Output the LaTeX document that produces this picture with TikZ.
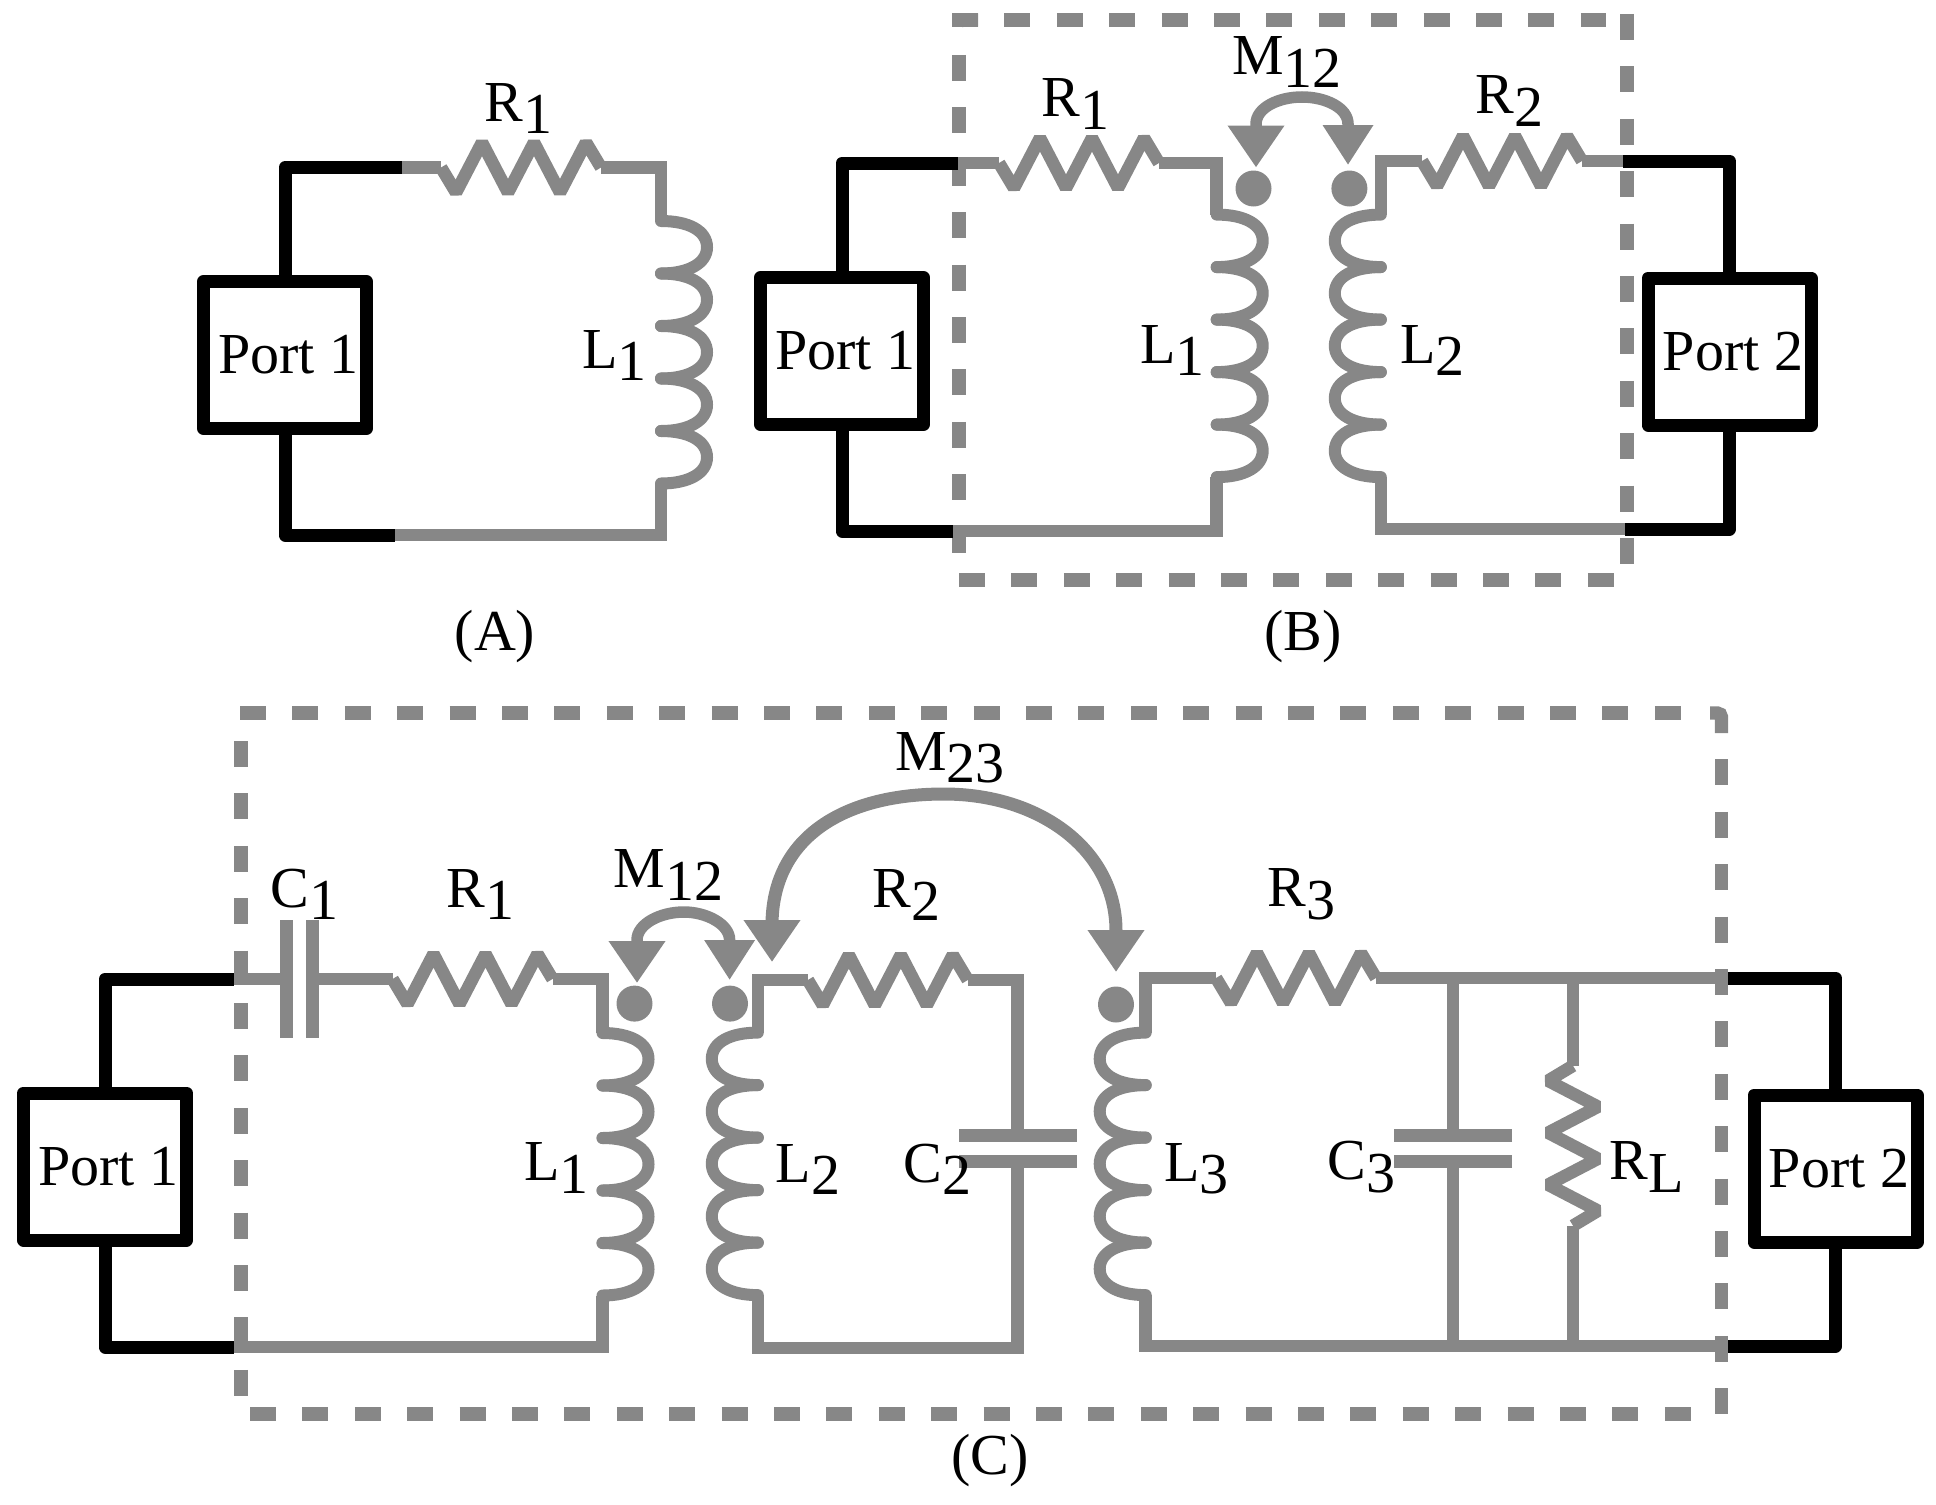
\documentclass[tikz,border=0pt]{standalone}
\usepackage{xcolor}
\usepackage{fontspec}
\setmainfont{Liberation Serif}
\usetikzlibrary{arrows.meta,calc}
\definecolor{wiregray}{RGB}{135,135,135}
\newcommand{\subtext}[2]{#1\raisebox{-6.3pt}{#2}}

\begin{document}
\begin{tikzpicture}[
  x=0.5pt, y=-0.5pt,
  wire/.style={draw=wiregray, line width=6.3pt},
  leadline/.style={draw=black, line width=6.5pt, line join=round},
  portbox/.style={
    draw=black,
    fill=white,
    line width=6.5pt,
    line join=round,
    minimum width=81.5pt,
    minimum height=73.5pt,
    inner sep=0pt,
    outer sep=0pt,
    execute at begin node={\hspace{3.5pt}},
    font=\fontsize{29pt}{34pt}\selectfont
  },
  cmplabel/.style={anchor=base west, inner sep=0pt, font=\fontsize{29pt}{34pt}\selectfont},
  panellabel/.style={anchor=base, inner sep=0pt, font=\fontsize{29pt}{34pt}\selectfont},
  framedash/.style={draw=wiregray, line width=6.6pt, dash pattern=on 13pt off 13.2pt},
  framecorner/.style={draw=wiregray, line width=6.6pt, rounded corners=2pt},
  dotmark/.style={circle, fill=wiregray, inner sep=0pt, minimum size=18pt},
  coupling/.style={draw=wiregray, line width=5.75pt,
    {Triangle[length=21pt,width=27pt]}-{Triangle[length=20pt,width=24pt]}},
  longcoupling/.style={draw=wiregray, line width=6.5pt,
    {Triangle[length=21pt,width=27pt]}-{Triangle[length=21pt,width=27pt]}},
  resistor/.pic={
    \draw[wire, line join=bevel] (0,0) -- (15,25) -- (41,-25) -- (67,25) -- (93,-25) -- (119,25) -- (145,-25) -- (160,0);
    \coordinate (-in) at (0,0);
    \coordinate (-out) at (160,0);
  },
  coil/.pic={
    \foreach \k in {0,...,4}
      \draw[draw=wiregray, line width=6pt, line cap=round, shift={(0,52.5*\k)}]
        (0,0) .. controls (28,0) and (46,10) .. (46,26.25) .. controls (46,42) and (28,52.5) .. (0,52.5);
    \coordinate (-in) at (0,0);
    \coordinate (-out) at (0,262.5);
  },
  capacitor/.pic={
    \draw[wire, line width=6.5pt] (0,-59) -- (0,59);
    \draw[wire, line width=6.5pt] (26,-59) -- (26,59);
    \coordinate (-in) at (0,0);
    \coordinate (-out) at (26,0);
  }
]
\useasboundingbox (0,0) rectangle (1936,1504);

% Panel A
\node[portbox] (pa) at (285,355) {Port 1};
\coordinate (ja1) at (402,167.5);
\coordinate (ja2) at (395,535);
\pic (ra) at (441,167.5) {resistor};
\pic (la) at (661,221) {coil};
\draw[wire] (ja1) -- (ra-in);
\draw[wire] (ra-out) -| (la-in);
\draw[wire] (la-out) |- (ja2);
\draw[leadline] (pa.north) |- (ja1);
\draw[leadline] (pa.south) |- (ja2);
\node[cmplabel] (lra) at (484,121) {\subtext{R}{1}};
\node[cmplabel] (lla) at (582,368) {\subtext{L}{1}};
\node[panellabel] (capa) at (495,650) {(A)};

% Panel B frame
\coordinate (fb1) at (952,20);
\coordinate (fb2) at (1606,20);
\coordinate (fb3) at (959,55);
\coordinate (fb4) at (959,553);
\coordinate (fb5) at (1627,14);
\coordinate (fb6) at (1627,566);
\coordinate (fb7) at (959,580);
\coordinate (fb8) at (1615,580);
\draw[framedash] (fb1) -- (fb2);
\draw[framedash] (fb3) -- (fb4);
\draw[framedash] (fb5) -- (fb6);
\draw[framedash] (fb7) -- (fb8);
\coordinate (fb9) at (959,27);
\coordinate (fb10) at (978,20);
\draw[framecorner] (fb9) |- (fb10);

% Panel B
\node[portbox] (pb1) at (842,351) {Port 1};
\node[portbox] (pb2) at (1729.5,351.5) {Port 2};
\coordinate (jb1) at (958,163);
\coordinate (jb2) at (953,531);
\coordinate (jb3) at (1623,161);
\coordinate (jb4) at (1625,529);
\pic (rb1) at (999,163) {resistor};
\pic (rb2) at (1422,161) {resistor};
\pic (lb1) at (1216.7,214.6) {coil};
\pic[xscale=-1] (lb2) at (1380.8,214.6) {coil};
\draw[wire] (jb1) -- (rb1-in);
\draw[wire] (rb1-out) -| (lb1-in);
\draw[wire] (lb1-out) |- (jb2);
\draw[wire] (lb2-in) |- (rb2-in);
\draw[wire] (rb2-out) -- (jb3);
\draw[wire] (lb2-out) |- (jb4);
\draw[leadline] (pb1.north) |- (jb1);
\draw[leadline] (pb1.south) |- (jb2);
\draw[leadline] (pb2.north) |- (jb3);
\draw[leadline] (pb2.south) |- (jb4);
\node[dotmark] (db1) at (1253.5,188.5) {};
\node[dotmark] (db2) at (1349.4,188.5) {};
\coordinate (tb1) at (1256,167.5);
\coordinate (tb2) at (1348,165);
\draw[coupling] (tb1) -- (1256,124) .. controls (1256,108) and (1278,97) .. (1302,97)
  .. controls (1326,97) and (1348,108) .. (1348,124) -- (tb2);
\node[cmplabel] (lrb1) at (1041,116.5) {\subtext{R}{1}};
\node[cmplabel] (lrb2) at (1475,113.5) {\subtext{R}{2}};
\node[cmplabel] (llb1) at (1140,363) {\subtext{L}{1}};
\node[cmplabel] (llb2) at (1400,363) {\subtext{L}{2}};
\node[cmplabel] (lmb) at (1232,74.5) {\subtext{M}{12}};
\node[panellabel] (capb) at (1303,650) {(B)};

% Panel C frame
\coordinate (fc1) at (240,713);
\coordinate (fc2) at (1683,713);
\coordinate (fc3) at (241,741);
\coordinate (fc4) at (241,1398);
\coordinate (fc5) at (1721.5,759.4);
\coordinate (fc6) at (1721.5,1416);
\coordinate (fc7) at (250,1414);
\coordinate (fc8) at (1694,1414);
\draw[framedash] (fc1) -- (fc2);
\draw[framedash] (fc3) -- (fc4);
\draw[framedash] (fc5) -- (fc6);
\draw[framedash] (fc7) -- (fc8);
\coordinate (fc9) at (1710,713);
\coordinate (fc10) at (1721.5,733);
\draw[framecorner] (fc9) -| (fc10);

% Panel C
\node[portbox] (pc1) at (105,1166.5) {Port 1};
\node[portbox] (pc2) at (1835.5,1168.5) {Port 2};
\coordinate (jc1) at (234,979);
\coordinate (jc2) at (234,1347);
\coordinate (jc3) at (1728,978);
\coordinate (jc4) at (1728,1346);
\coordinate (bc2) at (757.8,1348);
\pic (c1) at (286.5,979) {capacitor};
\pic (rc1) at (392.5,979) {resistor};
\pic (lc1) at (602.5,1033) {coil};
\pic[xscale=-1] (lc2) at (757.8,1032.6) {coil};
\pic (rc2) at (807.8,980) {resistor};
\pic[rotate=-90] (c2) at (1017.6,1135.7) {capacitor};
\pic[xscale=-1] (lc3) at (1145.7,1032.6) {coil};
\pic (rc3) at (1216,978) {resistor};
\pic[rotate=-90] (c3) at (1453,1135) {capacitor};
\pic[rotate=-90] (rl) at (1573,1065.7) {resistor};
\draw[wire] (jc1) -- (c1-in);
\draw[wire] (c1-out) -- (rc1-in);
\draw[wire] (rc1-out) -| (lc1-in);
\draw[wire] (lc1-out) |- (jc2);
\draw[wire] (lc2-in) |- (rc2-in);
\draw[wire] (rc2-out) -| (c2-in);
\draw[wire] (c2-out) |- (bc2) -- (lc2-out);
\draw[wire] (lc3-in) |- (rc3-in);
\draw[wire] (rc3-out) -- (jc3);
\draw[wire] (lc3-out) |- (jc4);
\draw[wire] (c3-in |- jc3) -- (c3-in);
\draw[wire] (c3-out) -- (c3-out |- jc4);
\draw[wire] (rl-in |- jc3) -- (rl-in);
\draw[wire] (rl-out) -- (rl-out |- jc4);
\draw[leadline] (pc1.north) |- (jc1);
\draw[leadline] (pc1.south) |- (jc2);
\draw[leadline] (pc2.north) |- (jc3);
\draw[leadline] (pc2.south) |- (jc4);
\node[dotmark] (dc1) at (634.5,1003.6) {};
\node[dotmark] (dc2) at (730,1003.6) {};
\node[dotmark] (dc3) at (1116,1004.5) {};
\coordinate (tc1) at (637,983);
\coordinate (tc2) at (729.6,980);
\coordinate (tc3) at (772,962);
\coordinate (tc4) at (1116,972);
\draw[coupling] (tc1) -- (637,940) .. controls (637,924) and (660,912) .. (684,912)
  .. controls (706,912) and (729.6,924) .. (729.6,940) -- (tc2);
\draw[longcoupling] (tc3) -- (772,925) .. controls (772,840) and (840,794) .. (944,794)
  .. controls (1040,794) and (1116,850) .. (1116,931) -- (tc4);
\node[cmplabel] (lc1t) at (270,907) {\subtext{C}{1}};
\node[cmplabel] (lr1t) at (446,907) {\subtext{R}{1}};
\node[cmplabel] (lr2t) at (872.5,907.5) {\subtext{R}{2}};
\node[cmplabel] (lr3t) at (1267,906.5) {\subtext{R}{3}};
\node[cmplabel] (ll1t) at (524,1180.5) {\subtext{L}{1}};
\node[cmplabel] (ll2t) at (775.5,1182) {\subtext{L}{2}};
\node[cmplabel] (lc2t) at (903.5,1182) {\subtext{C}{2}};
\node[cmplabel] (ll3t) at (1164,1181) {\subtext{L}{3}};
\node[cmplabel] (lc3t) at (1327,1179.5) {\subtext{C}{3}};
\node[cmplabel] (lrlt) at (1609,1179.5) {\subtext{R}{L}};
\node[cmplabel] (lm12) at (613.5,887.5) {\subtext{M}{12}};
\node[cmplabel] (lm23) at (895,770) {\subtext{M}{23}};
\node[panellabel] (capc) at (990,1474) {(C)};

\end{tikzpicture}
\end{document}
